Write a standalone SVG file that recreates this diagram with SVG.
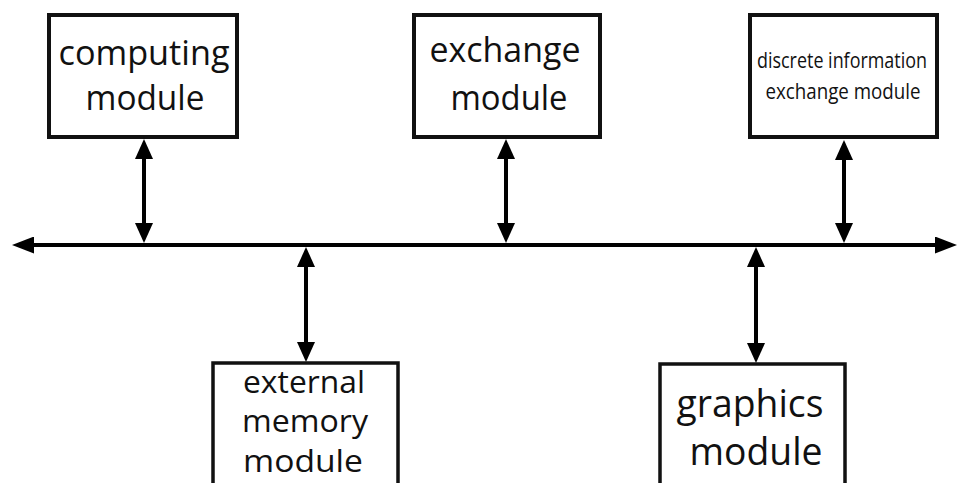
<svg xmlns="http://www.w3.org/2000/svg" width="958" height="483" viewBox="0 0 958 483">
<style>
.box{fill:#fff;stroke:#111;stroke-width:4}
.bbox{fill:#fff;stroke:#111;stroke-width:3.5}
.lbl{font-family:"Open Sans","Noto Sans","Liberation Sans",sans-serif;fill:#111;text-anchor:middle}
.con{stroke:#000;stroke-width:4;fill:none}
</style>
<defs>
<marker id="ah" markerUnits="userSpaceOnUse" markerWidth="20" markerHeight="18" refX="0" refY="9" orient="auto-start-reverse" viewBox="0 0 20 18">
<path d="M0,0 L20,9 L0,18 z" fill="#000"/>
</marker>
<marker id="bh" markerUnits="userSpaceOnUse" markerWidth="22" markerHeight="17" refX="0" refY="8.5" orient="auto-start-reverse" viewBox="0 0 22 17">
<path d="M0,0 L22,8.5 L0,17 z" fill="#000"/>
</marker>
</defs>
<rect width="958" height="483" fill="#fff"/>
<g id="connectors">
<path class="con" d="M34,245 H935" marker-start="url(#bh)" marker-end="url(#bh)"/>
<path class="con" d="M144,159 V223" marker-start="url(#ah)" marker-end="url(#ah)"/>
<path class="con" d="M506,159 V223" marker-start="url(#ah)" marker-end="url(#ah)"/>
<path class="con" d="M844,160 V223" marker-start="url(#ah)" marker-end="url(#ah)"/>
<path class="con" d="M306,267 V342" marker-start="url(#ah)" marker-end="url(#ah)"/>
<path class="con" d="M756,267 V343" marker-start="url(#ah)" marker-end="url(#ah)"/>
</g>
<g id="computing">
<rect class="box" x="49" y="15" width="188" height="122"/>
<text class="lbl" x="144" y="65" font-size="34" textLength="171" lengthAdjust="spacingAndGlyphs">computing</text>
<text class="lbl" x="145" y="110" font-size="34" textLength="119" lengthAdjust="spacingAndGlyphs">module</text>
</g>
<g id="exchange">
<rect class="box" x="414" y="15" width="186" height="122"/>
<text class="lbl" x="505" y="62" font-size="34" textLength="151" lengthAdjust="spacingAndGlyphs">exchange</text>
<text class="lbl" x="509" y="110" font-size="34" textLength="117" lengthAdjust="spacingAndGlyphs">module</text>
</g>
<g id="discrete">
<rect class="box" x="750" y="15" width="187" height="122"/>
<text class="lbl" x="842" y="68" font-size="22" textLength="170" lengthAdjust="spacingAndGlyphs">discrete information</text>
<text class="lbl" x="843" y="99" font-size="22" textLength="155" lengthAdjust="spacingAndGlyphs">exchange module</text>
</g>
<g id="external">
<rect class="bbox" x="213" y="363" width="185" height="130"/>
<text class="lbl" x="304" y="393" font-size="31" textLength="122" lengthAdjust="spacingAndGlyphs">external</text>
<text class="lbl" x="305" y="432" font-size="31" textLength="126" lengthAdjust="spacingAndGlyphs">memory</text>
<text class="lbl" x="303" y="472" font-size="31" textLength="120" lengthAdjust="spacingAndGlyphs">module</text>
</g>
<g id="graphics">
<rect class="bbox" x="660" y="364" width="185" height="130"/>
<text class="lbl" x="750" y="417" font-size="39" textLength="147" lengthAdjust="spacingAndGlyphs">graphics</text>
<text class="lbl" x="756" y="465" font-size="39" textLength="133" lengthAdjust="spacingAndGlyphs">module</text>
</g>
</svg>
